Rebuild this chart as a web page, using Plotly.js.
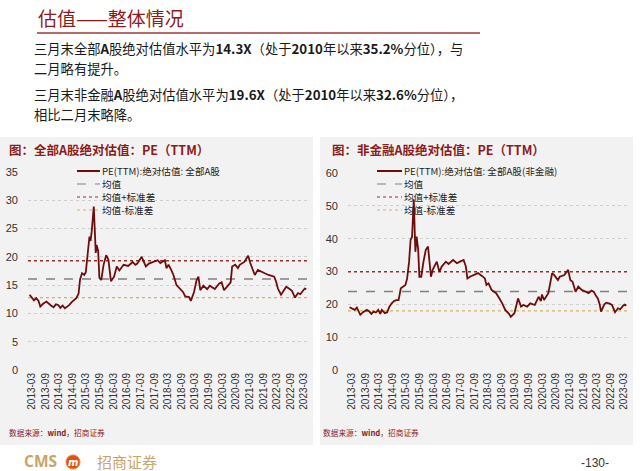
<!DOCTYPE html>
<html><head><meta charset="utf-8">
<script src="https://cdn.plot.ly/plotly-3.0.1.min.js"></script>
<style>html,body{margin:0;padding:0;background:#fff;}#chart{width:640px;height:471px;}</style>
</head><body><div id="chart"></div>
<script>
// ---- data: 全部A股 PE(TTM)
const allDates = ['2013-02-01','2013-03-01','2013-04-01','2013-05-01','2013-06-01','2013-06-25','2013-08-01','2013-09-15','2013-10-15','2013-11-15','2013-12-20','2014-01-20','2014-02-20','2014-03-20','2014-04-20','2014-05-20','2014-06-20','2014-07-20','2014-08-20','2014-09-20','2014-10-20','2014-11-20','2014-12-10','2015-01-05','2015-02-05','2015-02-25','2015-03-20','2015-04-15','2015-04-30','2015-05-15','2015-06-12','2015-06-30','2015-07-08','2015-07-20','2015-08-10','2015-08-26','2015-09-20','2015-10-20','2015-11-10','2015-11-25','2015-12-25','2016-01-15','2016-01-28','2016-03-10','2016-04-15','2016-05-20','2016-07-15','2016-09-15','2016-11-15','2016-12-20','2017-01-15','2017-03-15','2017-05-10','2017-06-20','2017-08-20','2017-10-15','2017-11-20','2017-12-20','2018-01-20','2018-02-10','2018-03-10','2018-04-15','2018-05-15','2018-06-25','2018-08-15','2018-09-20','2018-10-20','2018-12-10','2019-01-03','2019-02-15','2019-03-20','2019-04-15','2019-05-10','2019-06-20','2019-08-10','2019-09-15','2019-11-20','2019-12-31','2020-01-20','2020-02-20','2020-03-23','2020-05-20','2020-06-20','2020-07-10','2020-08-20','2020-09-25','2020-10-20','2020-12-20','2021-02-10','2021-03-10','2021-04-20','2021-05-10','2021-06-20','2021-08-10','2021-09-20','2021-11-10','2021-12-20','2022-01-25','2022-02-20','2022-03-15','2022-04-26','2022-06-10','2022-07-05','2022-08-20','2022-09-20','2022-10-31','2022-12-10','2023-01-10','2023-02-15','2023-03-10','2023-03-31'];
const allPE = [13.3,12.8,12.3,12.7,12.2,11.2,11.7,12.1,11.7,11.4,11.1,11.6,11.5,11.0,11.4,10.9,11.2,11.5,12.0,12.4,12.7,13.5,16.0,17.1,16.8,17.3,20.5,23.6,22.8,24.5,28.9,22.7,20.7,22.1,21.0,16.3,15.9,18.5,19.8,20.3,19.5,16.3,15.7,16.5,18.3,17.6,18.6,18.4,19.1,18.6,18.8,20.0,18.3,18.8,19.1,19.4,18.9,19.1,19.4,18.0,18.6,17.7,16.8,15.0,14.2,13.8,13.0,12.9,12.2,13.8,15.8,16.5,14.1,14.9,14.3,14.9,14.3,15.0,15.3,15.5,14.1,15.0,15.5,18.3,18.6,18.0,18.6,19.1,20.2,18.9,17.5,16.8,17.7,17.3,17.1,16.8,16.7,16.5,15.6,14.4,13.3,14.2,14.7,14.3,14.0,12.8,13.6,13.4,14.1,14.4,14.3];
const allStats = [16.1, 19.3, 12.8]; // 均值, 均值+标准差, 均值-标准差

// ---- data: 非金融A股 PE(TTM)
const nfDates = ['2013-02-01','2013-03-01','2013-04-10','2013-05-10','2013-06-25','2013-08-01','2013-09-20','2013-10-25','2013-11-20','2013-12-20','2014-01-20','2014-02-20','2014-03-20','2014-04-10','2014-05-20','2014-06-20','2014-07-20','2014-08-20','2014-09-20','2014-10-20','2014-11-20','2014-12-20','2015-01-20','2015-02-20','2015-03-15','2015-04-10','2015-04-30','2015-05-20','2015-06-12','2015-07-03','2015-07-20','2015-08-10','2015-08-26','2015-09-20','2015-10-20','2015-11-20','2015-12-20','2016-01-10','2016-01-28','2016-02-20','2016-04-15','2016-05-20','2016-06-20','2016-08-15','2016-09-20','2016-11-20','2017-01-10','2017-02-20','2017-04-10','2017-05-10','2017-05-31','2017-07-10','2017-08-20','2017-10-20','2017-12-20','2018-01-20','2018-02-10','2018-03-10','2018-04-20','2018-06-20','2018-07-20','2018-09-10','2018-10-20','2018-12-10','2019-01-03','2019-02-20','2019-04-10','2019-05-20','2019-06-20','2019-08-10','2019-09-20','2019-11-20','2020-01-10','2020-02-10','2020-02-25','2020-03-23','2020-05-20','2020-07-10','2020-08-10','2020-09-25','2020-10-20','2020-12-20','2021-02-10','2021-03-10','2021-04-10','2021-05-20','2021-06-25','2021-08-10','2021-09-20','2021-11-10','2021-12-20','2022-01-20','2022-02-20','2022-03-15','2022-04-10','2022-04-26','2022-06-10','2022-07-05','2022-08-20','2022-09-20','2022-10-31','2022-12-10','2023-01-10','2023-02-15','2023-03-10','2023-03-31'];
const nfPE = [19.1,18.8,18.3,19.0,16.8,17.6,18.3,17.8,17.1,17.8,17.5,18.3,17.1,18.3,17.3,17.6,19.3,20.3,21.0,21.3,21.3,24.9,25.5,25.9,27.9,33.0,39.6,40.6,52.0,36.0,40.6,36.6,28.4,28.4,33.0,36.6,37.6,33.0,28.4,30.5,33.0,29.9,31.5,33.0,32.3,33.5,32.5,33.0,33.5,31.5,27.9,28.5,28.9,29.5,28.5,27.9,25.9,26.4,24.4,23.4,22.3,20.3,18.3,17.1,16.2,17.3,21.8,19.3,19.8,19.3,20.3,19.8,22.3,21.0,23.0,21.3,23.4,29.5,28.8,27.4,28.4,28.9,30.5,27.4,26.9,23.8,25.4,24.4,24.0,23.4,24.2,23.8,22.5,21.8,19.8,17.8,20.0,20.5,20.2,19.8,17.6,18.8,18.5,19.6,19.9,19.6];
const nfStats = [23.9, 29.9, 18.0];

const seriesNames = ['均值','均值+标准差','均值-标准差'];
const allLineName = 'PE(TTM):绝对估值: 全部A股';
const nfLineName = 'PE(TTM):绝对估值: 全部A股(非金融)';

// ---- layout helpers (pixel -> paper)
const W = 640, H = 471;
const fx = p => p / W, fy = p => 1 - p / H;
const xRange = ['2013-01-11', '2023-04-23'];

const peColor = '#6e0d0d';
const statStyles = [
  {color: '#808080', width: 1.5, dash: 'dash'},
  {color: '#9b2c2c', width: 1.5, dash: 'dot'},
  {color: '#d6b460', width: 1.2, dash: 'dot'}
];

const traces = [];
function addChart(dates, pe, stats, xa, ya, name) {
  stats.forEach((v, i) => traces.push({
    type: 'scatter', mode: 'lines', x: xRange, y: [v, v], xaxis: xa, yaxis: ya,
    name: seriesNames[i], line: statStyles[i], showlegend: false, hoverinfo: 'skip'
  }));
  traces.push({type: 'scatter', mode: 'lines', x: dates, y: pe, xaxis: xa, yaxis: ya,
    name: name, line: {color: peColor, width: 1.8}, showlegend: false});
}
addChart(allDates, allPE, allStats, 'x', 'y', allLineName);
addChart(nfDates, nfPE, nfStats, 'x2', 'y2', nfLineName);

const xBase = {
  type: 'date', range: xRange, tick0: '2013-03-01', dtick: 'M6', tickformat: '%Y-%m',
  tickangle: -90, tickfont: {family: 'Arial, Liberation Sans', size: 10, color: '#333'},
  showgrid: false, showline: false, zeroline: false, ticks: '', fixedrange: true
};
const yBase = {
  showgrid: true, gridcolor: '#cfcfcf', griddash: 'dot', gridwidth: 1, zeroline: false,
  showline: false, ticks: '', tickfont: {family: 'Arial, Liberation Sans', size: 11, color: '#333'},
  ticklabelstandoff: 9, fixedrange: true
};

const ann = [];
const shapes = [];
function text(x, y, t, size, color, opts) {
  ann.push(Object.assign({xref: 'paper', yref: 'paper', x: fx(x), y: fy(y), text: t,
    showarrow: false, xanchor: 'left', yanchor: 'middle', borderpad: 0,
    font: {family: 'Noto Sans CJK SC', size: size, color: color}}, opts || {}));
}
function line(x0, y0, x1, y1, style) {
  shapes.push({type: 'line', xref: 'paper', yref: 'paper', x0: fx(x0), y0: fy(y0), x1: fx(x1), y1: fy(y1), line: style});
}

// panels
shapes.push({type: 'rect', xref: 'paper', yref: 'paper', x0: fx(0), x1: fx(313), y0: fy(445), y1: fy(137), fillcolor: '#f2f2f2', line: {width: 0}, layer: 'below'});
shapes.push({type: 'rect', xref: 'paper', yref: 'paper', x0: fx(320), x1: fx(633), y0: fy(445), y1: fy(137), fillcolor: '#f2f2f2', line: {width: 0}, layer: 'below'});

// header
text(37, 18, '估值——整体情况', 19, '#8b1c1c');
line(37, 33, 480, 33, {color: '#a23a3a', width: 1.5});
const dark = '#1a1a1a';
text(33, 49, '三月末全部<b>A</b>股绝对估值水平为<b>14.3X</b>（处于<b>2010</b>年以来<b>35.2%</b>分位），与', 13.3, dark);
text(33, 69, '二月略有提升。', 13.3, dark);
text(33, 95, '三月末非金融<b>A</b>股绝对估值水平为<b>19.6X</b>（处于<b>2010</b>年以来<b>32.6%</b>分位），', 13.3, dark);
text(33, 115, '相比二月末略降。', 13.3, dark);

// panel titles
text(8, 150, '<b>图：全部A股绝对估值：PE（TTM）</b>', 12.5, '#8b1c1c');
text(331, 150, '<b>图：非金融A股绝对估值：PE（TTM）</b>', 12.5, '#8b1c1c');

// legends
function legend(x0, x1, names) {
  const rows = [171, 184, 197, 210];
  const styles = [{color: peColor, width: 2}].concat(statStyles.map(s => ({color: s.color, width: 1.2, dash: s.dash})));
  rows.forEach((r, i) => {
    line(x0, r, x1, r, styles[i]);
    text(x1 + 1, r, names[i], 9.6, '#222');
  });
}
legend(77, 100, [allLineName].concat(seriesNames));
legend(377, 402, [nfLineName].concat(seriesNames));

// sources
text(8, 432, '数据来源：<b>wind</b>，招商证券', 7.7, '#8b1c1c');
text(322, 432, '数据来源：<b>wind</b>，招商证券', 7.7, '#8b1c1c');

// footer logo & page number
text(23, 461, '<b>CMS</b>', 15, '#c9a468', {font: {family: 'Open Sans', size: 15.5, color: '#c9a468'}});
shapes.push({type: 'circle', xref: 'paper', yref: 'paper', x0: fx(66), x1: fx(80), y0: fy(469), y1: fy(455), fillcolor: '#d8531c', line: {color: '#e58a2a', width: 1}});
text(73, 462, '<b><i>m</i></b>', 10, '#fff', {xanchor: 'center', font: {family: 'DejaVu Sans', size: 10, color: '#fff'}});
text(96, 461, '招商证券', 15, '#c9a468');
text(580, 463, '-130-', 12, '#333', {font: {family: 'Arial, Liberation Sans', size: 12, color: '#333'}});

const layout = {
  width: W, height: H, margin: {l: 0, r: 0, t: 0, b: 0},
  paper_bgcolor: '#ffffff', plot_bgcolor: 'rgba(0,0,0,0)', showlegend: false, hovermode: false,
  xaxis: Object.assign({}, xBase, {domain: [fx(28), fx(308)], anchor: 'y'}),
  yaxis: Object.assign({}, yBase, {domain: [fy(370), fy(172)], range: [0, 35], dtick: 5, anchor: 'x'}),
  xaxis2: Object.assign({}, xBase, {domain: [fx(348), fx(628)], anchor: 'y2'}),
  yaxis2: Object.assign({}, yBase, {domain: [fy(370), fy(173)], range: [0, 60], dtick: 10, anchor: 'x2'}),
  annotations: ann, shapes: shapes
};
Plotly.newPlot('chart', traces, layout, {staticPlot: true, displayModeBar: false});
</script></body></html>
